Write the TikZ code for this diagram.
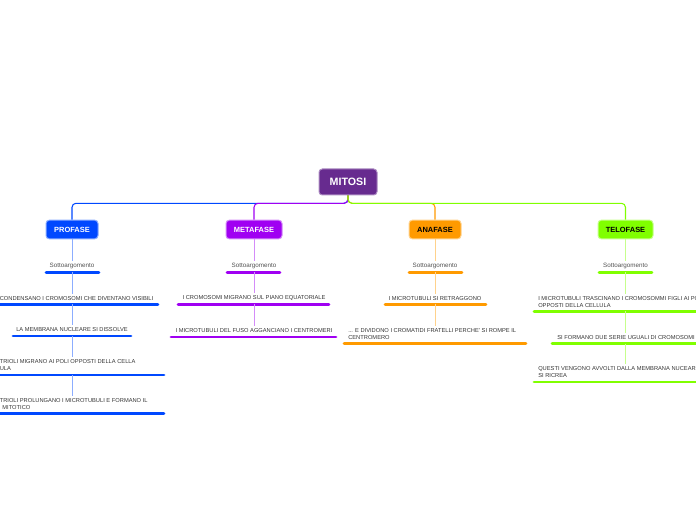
\documentclass[tikz,border=0pt]{standalone}
\usepackage{fontspec}
\setmainfont{Liberation Sans}
\definecolor{croot}{HTML}{672B8F}
\definecolor{cA}{HTML}{0048FF}
\definecolor{cB}{HTML}{A000F2}
\definecolor{cC}{HTML}{FF9A00}
\definecolor{cD}{HTML}{80FF00}
\definecolor{txt}{HTML}{333333}
\begin{document}
\begin{tikzpicture}[x=0.75pt,y=-0.75pt,
  rootbox/.style={fill=croot,draw=croot!55!white,line width=0.75pt,rounded corners=2.5pt,
    minimum width=43.5pt,minimum height=19.5pt,inner sep=0pt,text=white,
    font=\fontsize{8}{9}\selectfont\bfseries},
  phase/.style={fill=#1,draw=#1!45!white,line width=0.75pt,rounded corners=2.5pt,
    minimum height=14pt,inner sep=0pt,font=\fontsize{5.6}{6.5}\selectfont\bfseries},
  sott/.style={inner sep=0pt,text=txt!85!white,font=\fontsize{4.7}{5.5}\selectfont},
  sub/.style={inner sep=0pt,text=txt,align=left,font=\fontsize{4.3}{5.3}\selectfont},
  main/.style={draw=#1,line width=0.8pt,rounded corners=3pt},
  link/.style={draw=#1!45!white,line width=0.75pt},
  ul/.style={draw=#1,line width=2.2pt,line cap=round}]
\useasboundingbox (0,0) rectangle (696,520);
\clip (0,0) rectangle (696,520);

% root and phases
\node[rootbox] (root) at (348,182) {MITOSI};
\node[phase=cA,minimum width=39pt,text=white] (pA) at (72,229.5) {PROFASE};
\node[phase=cB,minimum width=42pt,text=white] (pB) at (254,229.5) {METAFASE};
\node[phase=cC,minimum width=39pt,text=black] (pC) at (435,229.5) {ANAFASE};
\node[phase=cD,minimum width=41.25pt,text=black] (pD) at (625.5,229.5) {TELOFASE};

\coordinate (hub) at (348,203.3);
\draw[main=cA] (root.south) -- (hub) -| (pA.north);
\draw[main=cB] (root.south) -- (hub) -| (pB.north);
\draw[main=cC] (root.south) -- (hub) -| (pC.north);
\draw[main=cD] (root.south) -- (hub) -| (pD.north);

% Sottoargomento labels
\node[sott] (sA) at (72,266) {Sottoargomento};
\node[sott] (sB) at (254,266) {Sottoargomento};
\node[sott] (sC) at (435,266) {Sottoargomento};
\node[sott] (sD) at (625.5,266) {Sottoargomento};
\draw[ul=cA] (46,272.5) -- (99,272.5);
\draw[ul=cB] (227,272.5) -- (280,272.5);
\draw[ul=cC] (409,272.5) -- (462,272.5);
\draw[ul=cD] (599,272.5) -- (652,272.5);
\coordinate (uA0) at (72,272.5);
\coordinate (uB0) at (254,272.5);
\coordinate (uC0) at (435,272.5);
\coordinate (uD0) at (625.5,272.5);
\draw[link=cA] (pA.south) -- ([yshift=1.5pt]sA.north);
\draw[link=cB] (pB.south) -- ([yshift=1.5pt]sB.north);
\draw[link=cC] (pC.south) -- ([yshift=1.5pt]sC.north);
\draw[link=cD] (pD.south) -- ([yshift=1.5pt]sD.north);

% PROFASE
\node[sub,anchor=south west] (a1) at (-0.5,300.5) {CONDENSANO I CROMOSOMI CHE DIVENTANO VISIBILI};
\draw[ul=cA] (-20,304.5) -- (158,304.5);
\coordinate (uA1) at (72,304.5);
\node[sub,anchor=south] (a2) at (72,332) {LA MEMBRANA NUCLEARE SI DISSOLVE};
\draw[ul=cA] (13,336) -- (131,336);
\coordinate (uA2) at (72,336);
\node[sub,anchor=south west] (a3) at (-0.5,371) {TRIOLI MIGRANO AI POLI OPPOSTI DELLA CELLA\\ULA};
\draw[ul=cA] (-20,375) -- (164,375);
\coordinate (uA3) at (72,375);
\node[sub,anchor=south west] (a4) at (-0.5,409.5) {TRIOLI PROLUNGANO I MICROTUBULI E FORMANO IL\\\hspace*{2pt}MITOTICO};
\draw[ul=cA] (-20,413.5) -- (164,413.5);
\draw[link=cA] (uA0) -- ([yshift=1.5pt]uA0 |- a1.north);
\draw[link=cA] (uA1) -- ([yshift=1.5pt]uA1 |- a2.north);
\draw[link=cA] (uA2) -- ([yshift=1.5pt]uA2 |- a3.north);
\draw[link=cA] (uA3) -- ([yshift=1.5pt]uA3 |- a4.north);

% METAFASE
\node[sub,anchor=south] (b1) at (254,300.5) {I CROMOSOMI MIGRANO SUL PIANO EQUATORIALE};
\draw[ul=cB] (178,304.5) -- (329,304.5);
\coordinate (uB1) at (254,304.5);
\node[sub,anchor=south] (b2) at (254,333) {I MICROTUBULI DEL FUSO AGGANCIANO I CENTROMERI};
\draw[ul=cB] (171,337) -- (336,337);
\draw[link=cB] (uB0) -- ([yshift=1.5pt]uB0 |- b1.north);
\draw[link=cB] (uB1) -- ([yshift=1.5pt]uB1 |- b2.north);

% ANAFASE
\node[sub,anchor=south] (c1) at (435,300.5) {I MICROTUBULI SI RETRAGGONO};
\draw[ul=cC] (385,304.5) -- (486,304.5);
\coordinate (uC1) at (435,304.5);
\node[sub,anchor=south west] (c2) at (348,339.5) {... E DIVIDONO I CROMATIDI FRATELLI PERCHE' SI ROMPE IL\\CENTROMERO};
\draw[ul=cC] (344,343.5) -- (526,343.5);
\draw[link=cC] (uC0) -- ([yshift=1.5pt]uC0 |- c1.north);
\draw[link=cC] (uC1) -- ([yshift=1.5pt]uC1 |- c2.north);

% TELOFASE
\node[sub,anchor=south west] (d1) at (538,307.5) {I MICROTUBULI TRASCINANO I CROMOSOMMI FIGLI AI POLI\\OPPOSTI DELLA CELLULA};
\draw[ul=cD] (534,311.5) -- (720,311.5);
\coordinate (uD1) at (625.5,311.5);
\node[sub,anchor=south] (d2) at (626,339.5) {SI FORMANO DUE SERIE UGUALI DI CROMOSOMI};
\draw[ul=cD] (552,343.5) -- (701,343.5);
\coordinate (uD2) at (625.5,343.5);
\node[sub,anchor=south west] (d3) at (538,378) {QUESTI VENGONO AVVOLTI DALLA MEMBRANA NUCEARE E\\SI RICREA};
\draw[ul=cD] (534,382) -- (720,382);
\draw[link=cD] (uD0) -- ([yshift=1.5pt]uD0 |- d1.north);
\draw[link=cD] (uD1) -- ([yshift=1.5pt]uD1 |- d2.north);
\draw[link=cD] (uD2) -- ([yshift=1.5pt]uD2 |- d3.north);
\end{tikzpicture}
\end{document}
